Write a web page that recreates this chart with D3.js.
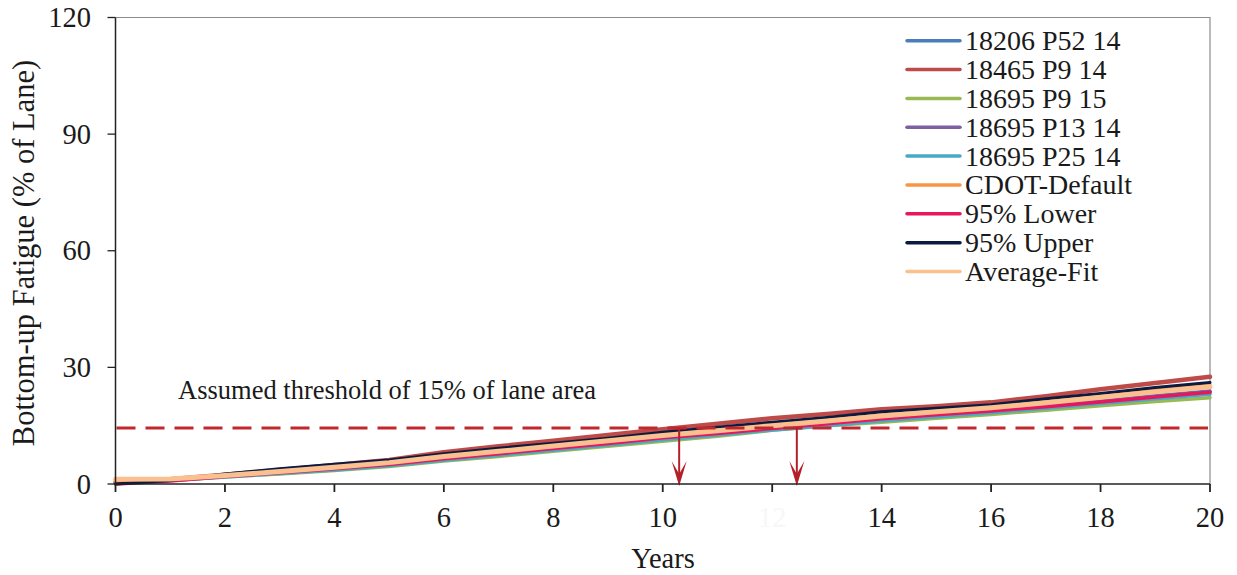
<!DOCTYPE html>
<html><head><meta charset="utf-8">
<script src="https://cdn.jsdelivr.net/npm/d3@7"></script>
<style>
html,body{margin:0;padding:0;background:#fff;}
svg{display:block;font-family:"Liberation Serif","Times New Roman",serif;}
</style></head>
<body><svg id="c" width="1237" height="575"></svg>
<script>
// ---------- data ----------
const years = [0,1,2,3,4,5,6,7,8,9,10,11,12,13,14,15,16,17,18,19,20];
const s18206P52_14 = [0.3,1.0,2.0,3.0,4.0,5.1,6.6,7.8,9.1,10.4,11.8,13.0,14.3,15.6,16.9,17.9,18.9,20.1,21.3,22.7,23.9];
const s18465P9_14  = [0.3,1.2,2.4,3.6,4.9,6.2,8.2,9.7,11.1,12.6,14.1,15.5,16.9,18.0,19.2,20.0,21.0,22.6,24.4,26.0,27.6];
const s18695P9_15  = [0.4,0.9,1.8,2.6,3.5,4.5,5.9,7.1,8.4,9.7,11.0,12.3,13.8,15.0,15.9,16.9,17.9,19.0,20.1,21.2,22.2];
const s18695P13_14 = [0.3,1.0,2.0,2.9,3.9,5.0,6.5,7.7,9.0,10.3,11.7,12.9,14.2,15.5,16.8,17.8,18.8,20.0,21.2,22.5,23.7];
const s18695P25_14 = [0.3,0.9,1.8,2.7,3.6,4.7,6.1,7.4,8.7,10.0,11.4,12.6,13.9,15.0,16.3,17.3,18.3,19.5,20.7,21.9,23.1];
const cdotDefault  = [0.5,1.0,2.2,3.3,4.5,5.7,7.3,8.6,10.0,11.3,12.7,13.9,15.2,16.4,17.8,18.9,19.9,21.2,22.6,24.1,25.4];
const lower95      = [0.0,0.8,1.9,2.9,3.9,5.0,6.5,7.8,9.1,10.4,11.9,13.0,14.3,15.5,16.8,17.8,18.8,19.9,21.1,22.4,23.6];
const upper95      = [0.0,0.9,2.6,3.9,5.1,6.2,7.8,9.2,10.5,11.8,13.3,14.6,15.9,17.1,18.6,19.5,20.4,21.9,23.3,24.8,26.1];
const averageFit   = [1.2,1.3,2.2,3.2,4.3,5.5,7.1,8.4,9.8,11.1,12.5,13.7,15.0,16.2,17.5,18.6,19.6,20.9,22.3,23.7,25.0];

const seriesNames  = ["18206 P52 14","18465 P9 14","18695 P9 15","18695 P13 14","18695 P25 14","CDOT-Default","95% Lower","95% Upper","Average-Fit"];
const seriesValues = [s18206P52_14,s18465P9_14,s18695P9_15,s18695P13_14,s18695P25_14,cdotDefault,lower95,upper95,averageFit];
const seriesColors = ["#4A7EBB","#BE4B48","#98B954","#7D60A0","#46AAC5","#F79646","#E8175D","#0B1A40","#FAC08F"];
const seriesWidths = [3.5,4.5,3.5,3.5,3.5,3.5,3.5,3,5];

const xTicks = [0,2,4,6,8,10,12,14,16,18,20];
const yTicks = [0,30,60,90,120];
const threshold = 14.4;
const thresholdLabel = "Assumed threshold of 15% of lane area";
const arrowYears = [10.3, 12.45];
const xTitle = "Years";
const yTitle = "Bottom-up Fatigue (% of Lane)";

// ---------- layout ----------
const L = 115.5, R = 1210, T = 17.5, B = 484;
const svg = d3.select("#c");
const x = d3.scaleLinear().domain([0,20]).range([L,R]);
const y = d3.scaleLinear().domain([0,120]).range([B,T]);

const defs = svg.append("defs");
defs.append("filter").attr("id","blur").attr("x","-10%").attr("y","-200%").attr("width","120%").attr("height","500%")
  .append("feGaussianBlur").attr("stdDeviation",2.5);
defs.append("filter").attr("id","blur2").attr("x","-200%").attr("y","-10%").attr("width","500%").attr("height","120%")
  .append("feGaussianBlur").attr("stdDeviation",1.2);

// plot frame (top & right)
svg.append("path").attr("d",`M${L},${T}H${R}V${B}`).attr("fill","none").attr("stroke","#8c8c8c").attr("stroke-width",1.2);

// faint shadow artifacts around threshold
const art = svg.append("g");
art.append("line").attr("x1",L).attr("x2",R).attr("y1",y(threshold)+5).attr("y2",y(threshold)+5)
  .attr("stroke","#d8d8d8").attr("stroke-width",7).attr("filter","url(#blur)");
const halfYears = d3.range(0,20.01,0.5);
art.selectAll("line.vt").data(halfYears).join("line").attr("class","vt")
  .attr("x1",d=>x(d)).attr("x2",d=>x(d)).attr("y1",y(threshold)-9).attr("y2",y(threshold)+12)
  .attr("stroke",d=>d%2===0?"#c4c4c4":"#e4e4e4").attr("stroke-width",2).attr("filter","url(#blur2)");
art.selectAll("line.vl").data([10,10.75,12,12.8]).join("line").attr("class","vl")
  .attr("x1",d=>x(d)).attr("x2",d=>x(d)).attr("y1",y(threshold)).attr("y2",B)
  .attr("stroke",(d,i)=>i%2===0?"#d6d6d6":"#ececec").attr("stroke-width",3).attr("filter","url(#blur2)");

// series
const line = d3.line().x((d,i)=>x(years[i])).y(d=>y(d));
svg.append("g").selectAll("path").data(seriesValues).join("path")
  .attr("d",d=>line(d)).attr("fill","none")
  .attr("stroke",(d,i)=>seriesColors[i]).attr("stroke-width",(d,i)=>seriesWidths[i])
  .attr("stroke-linejoin","round").attr("stroke-linecap","round");

// threshold line
svg.append("line").attr("x1",L+1).attr("x2",R-2).attr("y1",y(threshold)).attr("y2",y(threshold))
  .attr("stroke","#C0282D").attr("stroke-width",3).attr("stroke-dasharray","19,10");
svg.append("text").attr("x",178).attr("y",399).attr("font-size",26.5).attr("fill","#1a1a1a").text(thresholdLabel);

// arrows
const ag = svg.append("g");
arrowYears.forEach(a=>{
  const ax = x(a), y0 = y(threshold), y1 = B+2;
  ag.append("line").attr("x1",ax).attr("x2",ax).attr("y1",y0).attr("y2",y1-12).attr("stroke","#B2202A").attr("stroke-width",2);
  ag.append("path").attr("d",`M${ax},${y1} L${ax-7.5},${y1-25} L${ax},${y1-12} L${ax+7.5},${y1-25} Z`).attr("fill","#B2202A");
});

// axes
const ax = svg.append("g");
ax.append("line").attr("x1",L).attr("x2",L).attr("y1",T).attr("y2",B).attr("stroke","#222").attr("stroke-width",1.5);
ax.append("line").attr("x1",L).attr("x2",R).attr("y1",B).attr("y2",B).attr("stroke","#222").attr("stroke-width",1.5);
ax.selectAll("line.yt").data(yTicks).join("line").attr("class","yt")
  .attr("x1",L-8).attr("x2",L).attr("y1",d=>y(d)).attr("y2",d=>y(d)).attr("stroke","#222").attr("stroke-width",1.3);
ax.selectAll("line.xt").data(xTicks).join("line").attr("class","xt")
  .attr("x1",d=>x(d)).attr("x2",d=>x(d)).attr("y1",B).attr("y2",B+8).attr("stroke","#222").attr("stroke-width",1.8);
ax.selectAll("text.yl").data(yTicks).join("text").attr("class","yl")
  .attr("x",91).attr("y",d=>y(d)+9.5).attr("text-anchor","end").attr("font-size",28.5).attr("fill","#1a1a1a").text(d=>d);
ax.selectAll("text.xl").data(xTicks).join("text").attr("class","xl")
  .attr("x",d=>x(d)).attr("y",527).attr("text-anchor","middle").attr("font-size",28.5)
  .attr("fill",d=>d===12?"#f7f7f7":"#1a1a1a").text(d=>d);
svg.append("text").attr("x",663).attr("y",568).attr("text-anchor","middle").attr("font-size",28.5).attr("fill","#1a1a1a").text(xTitle);
svg.append("text").attr("transform","translate(34,253) rotate(-90)").attr("text-anchor","middle").attr("font-size",30.5).attr("fill","#1a1a1a").text(yTitle);

// legend
const lg = svg.append("g");
seriesNames.forEach((n,i)=>{
  const ly = 40.7 + i*28.85;
  lg.append("line").attr("x1",907).attr("x2",960).attr("y1",ly).attr("y2",ly).attr("stroke",seriesColors[i]).attr("stroke-width",3.5).attr("stroke-linecap","round");
  lg.append("text").attr("x",965).attr("y",ly+9.5).attr("font-size",28).attr("fill","#1a1a1a").text(n);
});
</script></body></html>
